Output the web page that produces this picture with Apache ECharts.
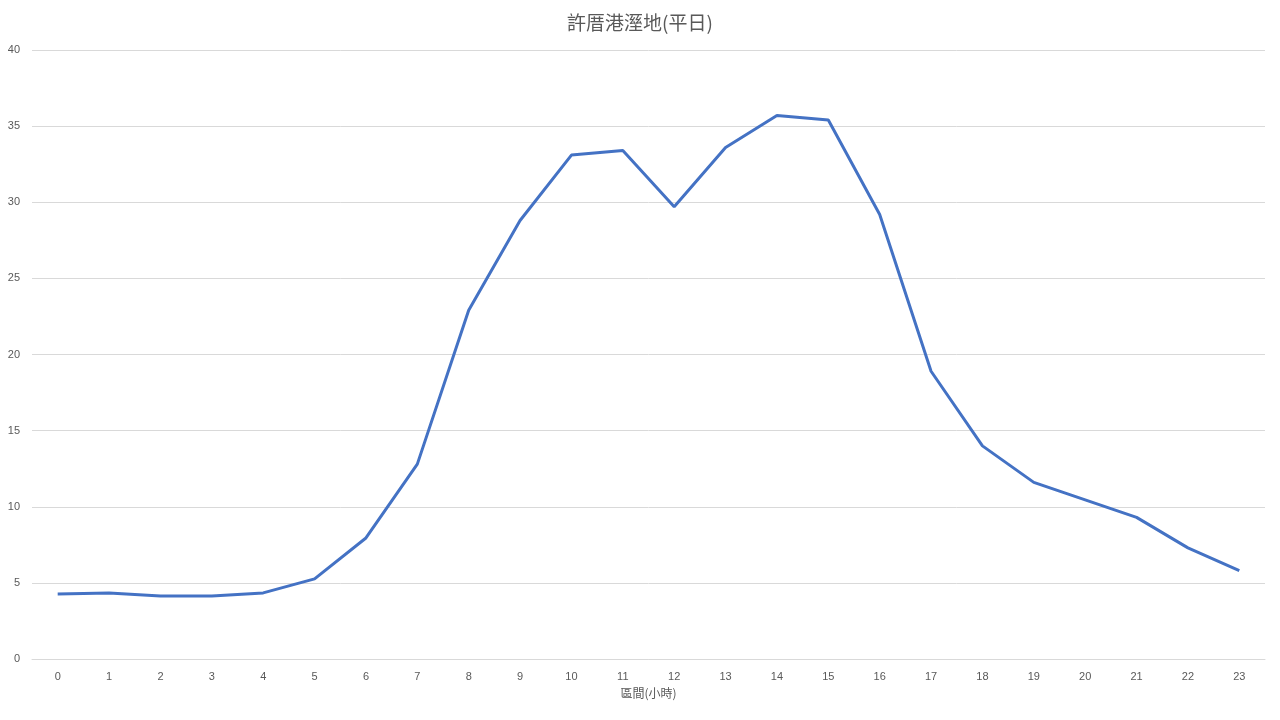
<!DOCTYPE html>
<html>
<head>
<meta charset="utf-8">
<script src="https://cdn.jsdelivr.net/npm/echarts@6/dist/echarts.min.js"></script>
<style>html,body{margin:0;padding:0;background:#fff}#main{width:1280px;height:720px}</style>
</head>
<body>
<div id="main"></div>
<script>
var hours = ['0','1','2','3','4','5','6','7','8','9','10','11','12','13','14','15','16','17','18','19','20','21','22','23'];
var values = [4.27, 4.34, 4.14, 4.14, 4.34, 5.26, 7.95, 12.8, 22.9, 28.8, 33.1, 33.4, 29.7, 33.6, 35.7, 35.4, 29.2, 18.9, 14.0, 11.6, 10.45, 9.3, 7.3, 5.8];

var chart = echarts.init(document.getElementById('main'));
var option = {
    title: {
        text: '許厝港溼地(平日)',
        left: 'center',
        top: 8,
        textStyle: { color: '#595959', fontSize: 19, fontWeight: 'normal', fontFamily: 'Noto Sans CJK TC' }
    },
    grid: { left: 32, right: 15, top: 50, bottom: 61 },
    xAxis: {
        type: 'category',
        data: hours,
        name: '區間(小時)',
        nameLocation: 'middle',
        nameGap: 28,
        nameTextStyle: { color: '#595959', fontSize: 12, fontFamily: 'Noto Sans CJK TC' },
        axisLine: { lineStyle: { color: '#d9d9d9' } },
        axisTick: { show: false },
        axisLabel: { color: '#595959', fontSize: 11, margin: 12 }
    },
    yAxis: {
        type: 'value',
        min: 0, max: 40, interval: 5,
        axisLine: { show: false },
        axisTick: { show: false },
        axisLabel: { color: '#595959', fontSize: 11, margin: 12 },
        splitLine: { lineStyle: { color: '#d9d9d9' } }
    },
    series: [{
        type: 'line',
        data: values,
        symbol: 'none',
        lineStyle: { color: '#4472C4', width: 3 }
    }]
};
chart.setOption(option);
</script>
</body>
</html>
